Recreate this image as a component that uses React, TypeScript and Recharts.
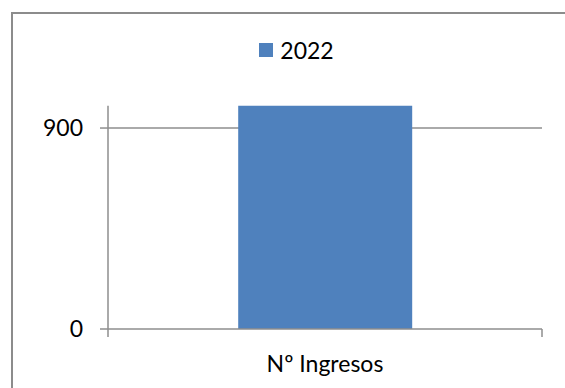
import React from 'react';
import { BarChart, Bar, XAxis, YAxis, CartesianGrid, Legend } from 'recharts';

const categories = ['Nº Ingresos'];
const seriesNames = ['2022'];
const values2022 = [1000];
const yDomain = [0, 1000];
const yTicks = [0, 900];

const data = categories.map((c, i) => ({ category: c, v2022: values2022[i] }));

const FONT = 'Lato, "Open Sans", sans-serif';
const AXIS = '#8e8e8e';
const BLUE = '#4F81BD';
const X_TICK_SIZE = 8;
const X_TICK_MARGIN = 19;

const LegendContent = (props: any) => {
  const payload = props.payload || [];
  return (
    <div
      style={{
        display: 'flex',
        justifyContent: 'center',
        alignItems: 'center',
        fontFamily: FONT,
        fontSize: 23,
        color: '#000',
        height: 28,
      }}
    >
      {payload.map((p: any) => (
        <div key={p.value} style={{ display: 'flex', alignItems: 'center' }}>
          <span
            style={{
              display: 'inline-block',
              width: 14,
              height: 14,
              background: p.color,
              marginRight: 7,
            }}
          />
          <span>{p.value}</span>
        </div>
      ))}
    </div>
  );
};

// Category tick: label plus Excel-style boundary tick marks at the category edges
const CategoryTick = (props: any) => {
  const { x, y, width, payload, index, visibleTicksCount } = props;
  const axisY = y - X_TICK_SIZE - X_TICK_MARGIN;
  const band = width / (visibleTicksCount || 1);
  const left = x - band / 2;
  const right = x + band / 2;
  return (
    <g>
      {index === 0 && (
        <line x1={left} x2={left} y1={axisY} y2={axisY + X_TICK_SIZE} stroke={AXIS} strokeWidth={1.5} />
      )}
      <line x1={right} x2={right} y1={axisY} y2={axisY + X_TICK_SIZE} stroke={AXIS} strokeWidth={1.5} />
      <text
        x={x}
        y={y}
        dy="0.71em"
        textAnchor="middle"
        fontFamily={FONT}
        fontSize={23}
        fill="#000"
      >
        {payload.value}
      </text>
    </g>
  );
};

export default function App() {
  return (
    <div
      style={{
        position: 'absolute',
        left: 0,
        top: 0,
        width: 565,
        height: 388,
        overflow: 'hidden',
        background: '#fff',
      }}
    >
      <div
        style={{
          position: 'absolute',
          left: 11,
          top: 12,
          width: 700,
          height: 500,
          borderLeft: '2px solid #8c8c8c',
          borderTop: '2px solid #8c8c8c',
        }}
      />
      <div style={{ position: 'absolute', left: 0, top: 0 }}>
        <BarChart
          width={565}
          height={388}
          data={data}
          margin={{ top: 77.7, right: 23, bottom: 19, left: 48 }}
          barCategoryGap="30%"
        >
          <CartesianGrid vertical={false} horizontalValues={[900]} stroke={AXIS} strokeWidth={1.5} strokeOpacity={1} />
          <XAxis
            dataKey="category"
            height={40}
            axisLine={{ stroke: AXIS, strokeWidth: 1.5 }}
            tickLine={false}
            tickSize={X_TICK_SIZE}
            tickMargin={X_TICK_MARGIN}
            tick={<CategoryTick />}
          />
          <YAxis
            domain={yDomain}
            ticks={yTicks}
            width={60}
            tickSize={8}
            tickMargin={17}
            axisLine={{ stroke: AXIS, strokeWidth: 1.5 }}
            tickLine={{ stroke: AXIS, strokeWidth: 1.5 }}
            tick={{ fontFamily: FONT, fontSize: 23, fill: '#000' }}
          />
          <Legend
            verticalAlign="top"
            align="center"
            content={<LegendContent />}
            wrapperStyle={{ top: 36, left: 28, width: 537 }}
          />
          <Bar dataKey="v2022" name={seriesNames[0]} fill={BLUE} isAnimationActive={false} />
        </BarChart>
      </div>
    </div>
  );
}
